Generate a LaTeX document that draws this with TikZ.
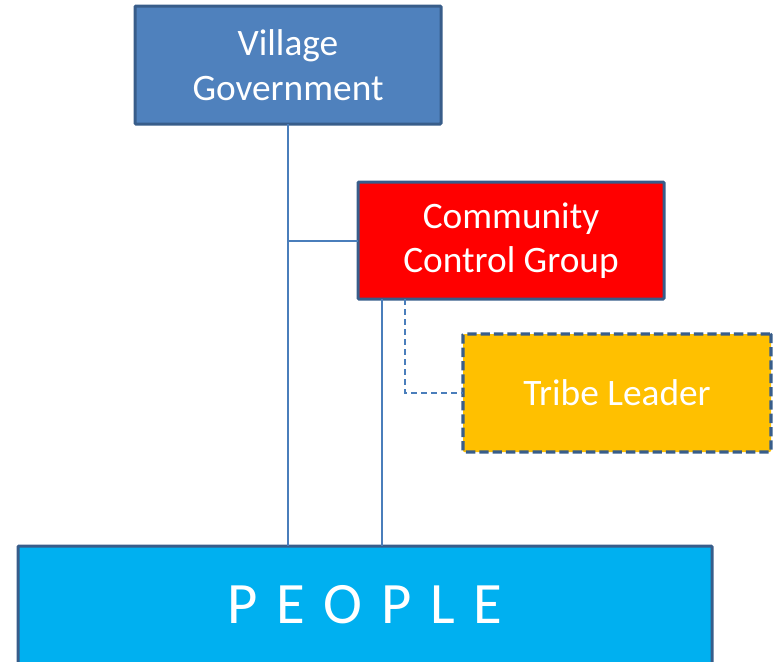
\documentclass[tikz,border=0pt]{standalone}
\usepackage{fontspec}
\setmainfont{Carlito}
\definecolor{vgfill}{HTML}{4F81BD}
\definecolor{edge}{HTML}{385D8A}
\definecolor{conn}{HTML}{4A7EBB}
\definecolor{ccgfill}{HTML}{FF0000}
\definecolor{tlfill}{HTML}{FFC000}
\definecolor{pfill}{HTML}{00B0F0}
\tikzset{
  box/.style={draw=edge, line width=2.25pt, rounded corners=0.8pt, text=white, align=center, inner sep=0pt, outer sep=0pt,
    font=\fontsize{28}{33.5}\selectfont},
  link/.style={draw=conn, line width=1.5pt},
  dlink/.style={draw=conn, line width=1.5pt, dash pattern=on 4.5pt off 3pt},
}
\begin{document}
\begin{tikzpicture}[x=0.75pt,y=-0.75pt]
\useasboundingbox (0,0) rectangle (774,661);
\clip (0,0) rectangle (774,661);
\node[box, fill=vgfill, minimum width=229.5pt, minimum height=88.5pt] (vg) at (288,65) {Village\\Government};
\node[box, fill=ccgfill, minimum width=229.5pt, minimum height=87.75pt] (ccg) at (511,240.5) {Community\\Control Group};
\node[box, fill=tlfill, line width=2.5pt, dash pattern=on 7pt off 3pt, minimum width=231pt, minimum height=88.5pt] (tl) at (617,393) {Tribe Leader};
\node[box, fill=pfill, minimum width=520.5pt, minimum height=88.5pt, font=\fontsize{44}{50}\selectfont] (people) at (365,605) {P\hspace{0.32em}E\hspace{0.32em}O\hspace{0.32em}P\hspace{0.32em}L\hspace{0.32em}E};
\draw[link] (vg.south) -- (vg.south |- people.north);
\draw[link] (ccg.west) -- (ccg.west -| vg.south);
\coordinate (c1) at ([xshift=18pt]ccg.south west);
\coordinate (c2) at ([xshift=35.25pt]ccg.south west);
\draw[link] (c1) -- (c1 |- people.north);
\draw[dlink] (c2) |- (tl.west);
\end{tikzpicture}
\end{document}
